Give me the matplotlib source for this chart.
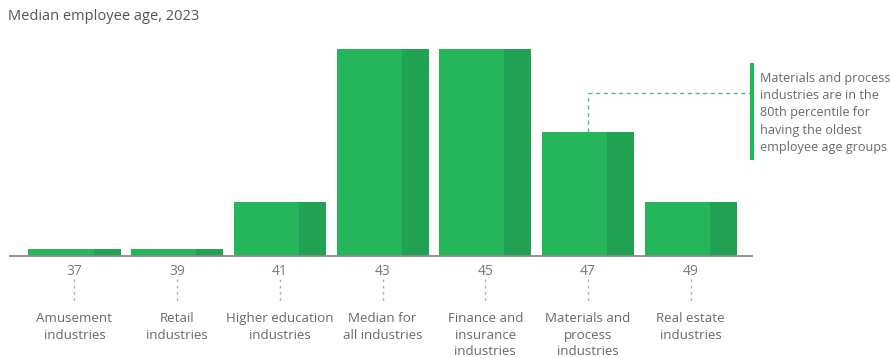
import matplotlib
matplotlib.use("Agg")
import matplotlib.pyplot as plt
import numpy as np

# ---- data ----
ages = ["37", "39", "41", "43", "45", "47", "49"]
categories = ["Amusement\nindustries", "Retail\nindustries", "Higher education\nindustries",
              "Median for\nall industries", "Finance and\ninsurance\nindustries",
              "Materials and\nprocess\nindustries", "Real estate\nindustries"]
values = [3.5, 3.5, 26, 100, 100, 60, 26]
title = "Median employee age, 2023"
note = "Materials and process\nindustries are in the\n80th percentile for\nhaving the oldest\nemployee age groups"
highlight_index = 5

plt.rcParams['font.family'] = ['Open Sans', 'DejaVu Sans']

W, H = 890, 358
fig = plt.figure(figsize=(W / 100, H / 100), dpi=100)
base_px = 256
top_px = 49
ax = fig.add_axes([10 / W, (H - base_px) / H, 742 / W, (base_px - top_px) / H])

light = "#25b55b"
dark = "#22a253"
x = np.arange(len(values))
bw = 0.896
light_frac = 0.707
ax.bar(x - bw / 2, values, width=bw * light_frac, align='edge', color=light, linewidth=0)
ax.bar(x - bw / 2 + bw * light_frac, values, width=bw * (1 - light_frac), align='edge',
       color=dark, linewidth=0)

ax.set_xlim(-0.628, 6.597)
ax.set_ylim(0, 100)
for s in ["top", "right", "left"]:
    ax.spines[s].set_visible(False)
ax.spines["bottom"].set_color("#8a8a8a")
ax.spines["bottom"].set_linewidth(1.3)
ax.set_yticks([])
ax.set_xticks(x)
ax.set_xticklabels(ages, fontsize=10, color="#7a7a7a")
ax.tick_params(axis='x', length=0, pad=6)

ph = base_px - top_px  # axes height in px
tr = ax.get_xaxis_transform()
for xi, cat in zip(x, categories):
    ax.plot([xi, xi], [(base_px - 279) / ph, (base_px - 303) / ph],
            transform=tr, clip_on=False, color="#b0b0b0", lw=1, ls=(0, (2, 2.5)))
    ax.text(xi, (base_px - 312) / ph, cat, transform=tr, ha='center', va='top',
            fontsize=9.6, color="#6a6a6a", linespacing=1.36)

# title
fig.text(8 / W, 1 - 16 / H, title, fontsize=10.5, color="#555555", va='center', ha='left')

# annotation
hx = x[highlight_index]
ann_y = (base_px - 93) / ph
ax.plot([hx, hx], [values[highlight_index] / 100, ann_y], transform=tr, clip_on=False,
        color="#4cc07a", lw=1, ls=(0, (3, 2.5)))
ax.plot([hx, 6.582], [ann_y, ann_y], transform=tr, clip_on=False,
        color="#4cc07a", lw=1, ls=(0, (3, 2.5)))
ax.plot([6.594, 6.594], [(base_px - 63) / ph, (base_px - 160) / ph], transform=tr,
        clip_on=False, color=light, lw=3, solid_capstyle='butt')
fig.text(760 / W, 1 - 72 / H, note, fontsize=9.1, color="#6a6a6a", va='top', ha='left',
         linespacing=1.42)

fig.savefig("out.png", dpi=100)
